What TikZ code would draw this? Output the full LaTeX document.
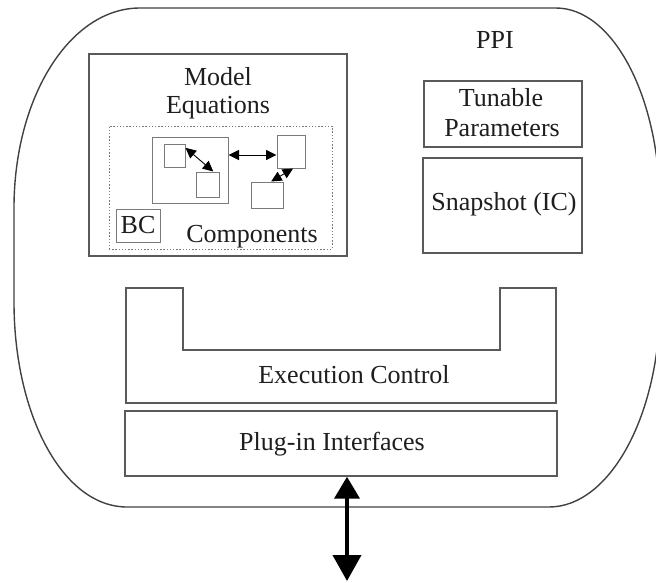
\documentclass[tikz,border=0pt]{standalone}
\usepackage{fontspec}
\setmainfont{Liberation Serif}
\usetikzlibrary{arrows.meta,calc}
\definecolor{linegray}{RGB}{90,90,90}
\definecolor{outline}{RGB}{65,65,65}
\definecolor{inkc}{RGB}{30,30,30}
\begin{document}
\begin{tikzpicture}[x=1pt,y=-1pt,
  blk/.style={draw=linegray, line width=1.4pt, inner sep=0pt, text=inkc},
  thin blk/.style={draw=linegray!80, line width=1pt, inner sep=0pt},
  lbl/.style={inner sep=0pt, anchor=base, text=inkc},
  small arrow/.style={line width=0.9pt, draw=black,
    {Triangle[length=10.5pt,width=10pt]}-{Triangle[length=10.5pt,width=10pt]}},
  big arrow/.style={line width=4pt, draw=black,
    {Triangle[length=22pt,width=25pt]}-{Triangle[length=26pt,width=28pt]}}]
\useasboundingbox (0,0) rectangle (656,582);
\clip (0,0) rectangle (656,582);
\fontsize{26}{29}\selectfont

% outer PPI container with wide elliptical corners
\draw[outline, line width=1.4pt]
  (140,8) .. controls (70,8) and (14,97) .. (14,208)
  -- (14,302)
  .. controls (14,415) and (63,507) .. (127,507)
  -- (549,507)
  .. controls (610,507) and (660,415) .. (660,302)
  -- (660,208)
  .. controls (660,97) and (613,8) .. (556,8) -- cycle;
\node[lbl] (ppi) at (495,48) {PPI};

% model equations block
\node[blk, minimum width=258pt, minimum height=202pt] (me) at (218,155) {};
\node[lbl] (me1) at (218,85) {Model};
\node[lbl] (me2) at (218,113) {Equations};
\node[draw=linegray!80, line width=0.9pt, dash pattern=on 1.4pt off 1.8pt,
      inner sep=0pt, minimum width=223pt, minimum height=123pt] (comp) at (220.5,187.5) {};
\node[thin blk, minimum width=76pt, minimum height=66pt] (grp) at (190,170) {};
\node[thin blk, minimum width=21pt, minimum height=23pt] (sqa) at (174.5,155.5) {};
\node[thin blk, minimum width=23pt, minimum height=25pt] (sqb) at (207.5,184.5) {};
\node[thin blk, minimum width=28pt, minimum height=33pt] (tall) at (291,151.5) {};
\node[thin blk, minimum width=32pt, minimum height=26pt] (lowr) at (267,195) {};
\node[thin blk, minimum width=44pt, minimum height=33pt, text=inkc] (bc) at (138,225.5) {BC};
\node[lbl] (comptext) at (252,242) {Components};

\coordinate (tw) at ([yshift=-3.5pt]tall.west);
\coordinate (ge) at (grp.east |- tw);
\draw[small arrow] (ge) -- (tw);
\draw[small arrow] (sqa.35) -- (sqb.66);
\draw[small arrow] (tall.-83) -- (lowr.73);

% parameter and snapshot blocks
\node[blk, minimum width=158pt, minimum height=66pt] (tun) at (503,114) {};
\node[lbl] (tun1) at (501,106) {Tunable};
\node[lbl] (tun2) at (502,136) {Parameters};
\node[blk, minimum width=159pt, minimum height=95pt] (snap) at (502.5,205.5) {};
\node[lbl] (snaptext) at (504,210) {Snapshot (IC)};

% execution control (U-shaped block)
\draw[linegray, line width=1.4pt]
  (126,288) -- (183,288) -- (183,350) -- (500,350) -- (500,288)
  -- (556,288) -- (556,403) -- (126,403) -- cycle;
\node[lbl] (exec) at (354,383) {Execution Control};

% plug-in interfaces
\node[blk, minimum width=432pt, minimum height=65pt] (plug) at (341,443.5) {};
\node[lbl] (plugtext) at (332,450) {Plug-in Interfaces};

\coordinate (ext) at (347,581);
\draw[big arrow] (plug.south -| ext) -- (ext);
\end{tikzpicture}
\end{document}
